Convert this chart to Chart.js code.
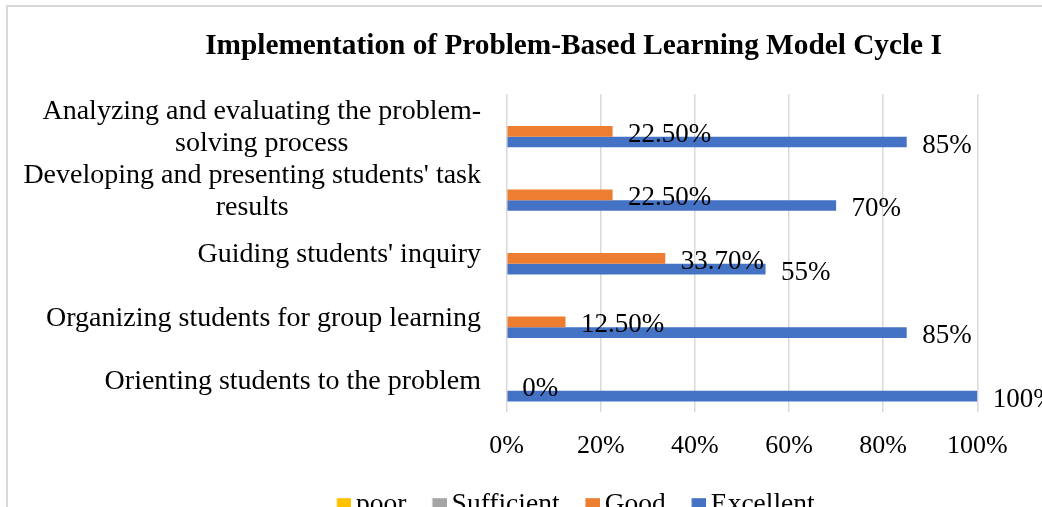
<!DOCTYPE html>
<html>
<head>
<meta charset="utf-8">
<script src="https://cdn.jsdelivr.net/npm/chart.js@4.4.1/dist/chart.umd.min.js"></script>
<style>
  html, body { margin: 0; padding: 0; background: #fff; overflow: hidden; width: 1042px; height: 507px; }
  #frame { position: absolute; left: 6px; top: 5px; width: 1131px; height: 522px; border: 2px solid #d9d9d9; background: #fff; }
</style>
</head>
<body>
<div id="frame"><canvas id="myChart"></canvas></div>
<script>
// categories, top to bottom as they appear
const categories = [
  ["Analyzing and evaluating the problem-", "solving process"],
  ["Developing and presenting students' task", "results"],
  "Guiding students' inquiry",
  "Organizing students for group learning",
  "Orienting students to the problem"
];
const seriesNames = ["poor", "Sufficient", "Good", "Excellent"];
const seriesColors = ["#FFC000", "#A5A5A5", "#ED7D31", "#4472C4"];
const poorValues = [0, 0, 0, 0, 0];
const sufficientValues = [0, 0, 0, 0, 0];
const goodValues = [22.5, 22.5, 33.7, 12.5, 0];
const excellentValues = [85, 70, 55, 85, 100];
const xTicks = [0, 20, 40, 60, 80, 100];

const FONT = "'Liberation Serif', 'Times New Roman', serif";

function fmtLabel(datasetIndex, v) {
  if (datasetIndex === 2) return v === 0 ? "0%" : v.toFixed(2) + "%";
  return v + "%";
}

// small colour square for the legend, drawn on the right of its canvas
function swatch(color) {
  const c = document.createElement("canvas");
  c.width = 28;
  c.height = 15;
  const g = c.getContext("2d");
  g.fillStyle = color;
  g.fillRect(13.5, 0.25, 14.5, 14.5);
  return c;
}

// value labels at the end of the Good / Excellent bars
const barLabels = {
  id: "barLabels",
  afterDatasetsDraw(chart) {
    const ctx = chart.ctx;
    ctx.save();
    ctx.font = "27px " + FONT;
    ctx.fillStyle = "#000";
    ctx.textAlign = "left";
    ctx.textBaseline = "middle";
    [2, 3].forEach((di) => {
      const meta = chart.getDatasetMeta(di);
      meta.data.forEach((bar, i) => {
        const v = chart.data.datasets[di].data[i];
        ctx.fillText(fmtLabel(di, v), bar.x + 15.5, bar.y + 3.5);
      });
    });
    ctx.restore();
  }
};

// category labels: block right-aligned, wrapped lines centred inside the block
const catLabels = {
  id: "catLabels",
  afterDraw(chart) {
    const scale = chart.scales.y;
    const ctx = chart.ctx;
    ctx.save();
    ctx.font = "28px " + FONT;
    ctx.fillStyle = "#000";
    ctx.textAlign = "center";
    ctx.textBaseline = "middle";
    const right = scale.right - 25.7;
    const lineH = 32;
    chart.data.labels.forEach((lab, i) => {
      const lines = Array.isArray(lab) ? lab : [lab];
      const w = Math.max(...lines.map((l) => ctx.measureText(l).width));
      const cy = scale.getPixelForTick(i) + 2;
      lines.forEach((l, j) => {
        ctx.fillText(l, right - w / 2, cy + (j - (lines.length - 1) / 2) * lineH);
      });
    });
    ctx.restore();
  }
};

function drawChart() {
  const ctx = document.getElementById("myChart").getContext("2d");
  const values = [poorValues, sufficientValues, goodValues, excellentValues];

  window.myChartInstance = new Chart(ctx, {
    type: "bar",
    data: {
      labels: categories,
      datasets: seriesNames.map((name, i) => ({
        label: name,
        data: values[i],
        backgroundColor: seriesColors[i],
        borderWidth: 0,
        barPercentage: 1,
        categoryPercentage: 0.675
      }))
    },
    options: {
      indexAxis: "y",
      responsive: true,
      maintainAspectRatio: false,
      animation: false,
      layout: { padding: 0 },
      scales: {
        x: {
          type: "linear",
          min: 0,
          max: 100,
          afterBuildTicks: (s) => { s.ticks = xTicks.map((v) => ({ value: v })); },
          grid: { color: "#d9d9d9", lineWidth: 1.5, drawTicks: false },
          border: { display: false },
          ticks: {
            font: { family: FONT, size: 26 },
            color: "#000",
            padding: 19,
            callback: (v) => v + "%"
          },
          afterFit: (s) => { s.height = 58.4; }
        },
        y: {
          type: "category",
          grid: { display: false, drawTicks: false },
          border: { display: false },
          ticks: { display: false, autoSkip: false },
          afterFit: (s) => { s.width = 498.7; }
        },
        // empty right-hand space, the picture is wider than the plot
        y2: {
          type: "linear",
          position: "right",
          grid: { display: false },
          border: { display: false },
          ticks: { display: false },
          afterFit: (s) => { s.width = 161.7; }
        }
      },
      plugins: {
        title: {
          display: true,
          text: "Implementation of Problem-Based Learning Model Cycle I",
          font: { family: FONT, size: 29.3, weight: "bold" },
          color: "#000",
          padding: { top: 22, bottom: 30 }
        },
        legend: {
          position: "bottom",
          labels: {
            font: { family: FONT, size: 27.5 },
            color: "#000",
            usePointStyle: true,
            boxWidth: 10,
            padding: 21.35,
            generateLabels(chart) {
              const items = Chart.defaults.plugins.legend.labels.generateLabels(chart);
              items.forEach((it, i) => { it.pointStyle = swatch(seriesColors[i]); });
              return items;
            }
          }
        },
        tooltip: { enabled: false }
      }
    },
    plugins: [barLabels, catLabels]
  });
}

drawChart();
</script>
</body>
</html>
